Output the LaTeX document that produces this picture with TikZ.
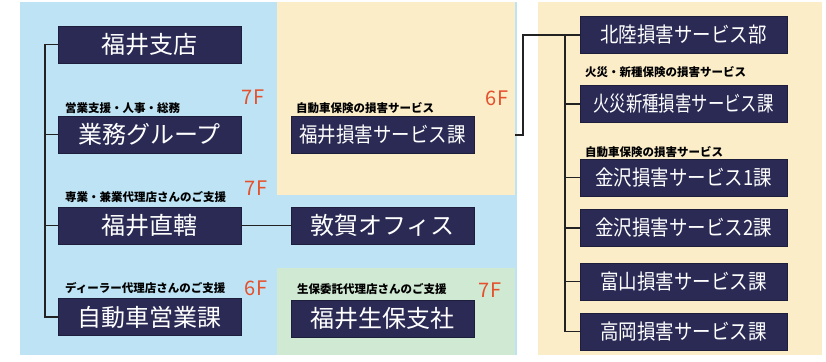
\documentclass[tikz,border=0pt]{standalone}
\usepackage{fontspec}
\setmainfont{Noto Sans CJK JP}
\newfontfamily\jp{Noto Sans CJK JP}
\newfontfamily\jpn[FakeStretch=0.88]{Noto Sans CJK JP}
\newfontfamily\jpnn[FakeStretch=0.78]{Noto Sans CJK JP}
\definecolor{bgblue}{HTML}{BDE3F4}
\definecolor{bgyellow}{HTML}{FBEDC8}
\definecolor{bggreen}{HTML}{CFE9D2}
\definecolor{navy}{HTML}{2A2A55}
\definecolor{floorred}{HTML}{E5512D}
\definecolor{linec}{HTML}{222222}
\tikzset{
  bigbox/.style={fill=navy, draw=navy!70!black, line width=0.6pt, text=white, minimum width=183pt, minimum height=37pt, inner sep=0pt, font=\jp\fontsize{24}{24}\selectfont},
  midbox/.style={bigbox, font=\jpn\fontsize{21}{21}\selectfont},
  rbox/.style={bigbox, minimum width=207pt, font=\jpn\fontsize{21}{21}\selectfont},
  note/.style={anchor=west, inner sep=0pt, text=black, font=\jp\bfseries\fontsize{11.5}{11.5}\selectfont},
  floor/.style={inner sep=0pt, text=floorred, font=\jp\fontsize{20}{20}\selectfont},
  conn/.style={draw=linec, line width=1.4pt}
}
\begin{document}
\begin{tikzpicture}[x=1pt,y=-1pt]
\useasboundingbox (0,0) rectangle (826,361);
\fill[white] (0,0) rectangle (826,361);
% panels
\fill[bgblue] (20,2) rectangle (517,355);
\fill[bgyellow] (277,2) rectangle (515,195);
\fill[bggreen] (277,268) rectangle (515,355);
\fill[bgyellow] (538,2) rectangle (822,355);
% left column
\node[bigbox] (b1) at (149.5,44.5) {福井支店};
\node[bigbox] (b2) at (149.5,134.5) {業務グループ};
\node[bigbox] (b3) at (149.5,225.5) {福井直轄};
\node[bigbox] (b4) at (149.5,317) {自動車営業課};
\node[note] (n1) at (65,108) {営業支援・人事・総務};
\node[note] (n2) at (65,197) {専業・兼業代理店さんのご支援};
\node[note] (n3) at (65,288) {ディーラー代理店さんのご支援};
\node[floor] (f1) at (253,97) {7F};
\node[floor] (f2) at (256,188) {7F};
\node[floor] (f3) at (256,288) {6F};
% middle column
\node[midbox] (m1) at (382.5,135) {福井損害サービス課};
\node[bigbox] (m2) at (382.5,225.5) {敦賀オフィス};
\node[bigbox] (m3) at (382.5,318.5) {福井生保支社};
\node[note] (n4) at (296,108) {自動車保険の損害サービス};
\node[note] (n5) at (297,289) {生保委託代理店さんのご支援};
\node[floor] (f4) at (497,98) {6F};
\node[floor] (f5) at (490,290) {7F};
% right column
\node[rbox] (r1) at (683.5,35) {北陸損害サービス部};
\node[rbox, font=\jpnn\fontsize{21}{21}\selectfont] (r2) at (683.5,104) {火災新種損害サービス課};
\node[rbox] (r3) at (683.5,177.5) {金沢損害サービス1課};
\node[rbox] (r4) at (683.5,228) {金沢損害サービス2課};
\node[rbox] (r5) at (683.5,281.5) {富山損害サービス課};
\node[rbox] (r6) at (683.5,331.5) {高岡損害サービス課};
\node[note] (n6) at (585,72) {火災・新種保険の損害サービス};
\node[note] (n7) at (585,152) {自動車保険の損害サービス};
% left connectors
\coordinate (lt) at (45,0);
\draw[conn] (b1.west) -- (b1.west -| lt) -- (b4.west -| lt) -- (b4.west);
\draw[conn] (b2.west) -- (b2.west -| lt);
\draw[conn] (b3.west) -- (b3.west -| lt);
\draw[conn] (b3.east) -- (m2.west);
% middle to right
\coordinate (medge) at (515,135);
\coordinate (gx) at (523,0);
\draw[conn] (medge) -- (medge -| gx) |- (r1.west);
% right trunk
\coordinate (rt) at (565,0);
\draw[conn] (r1.west -| rt) -- (r6.west -| rt) -- (r6.west);
\foreach \n in {r2,r3,r4,r5} \draw[conn] (\n.west) -- (\n.west -| rt);
\end{tikzpicture}
\end{document}
